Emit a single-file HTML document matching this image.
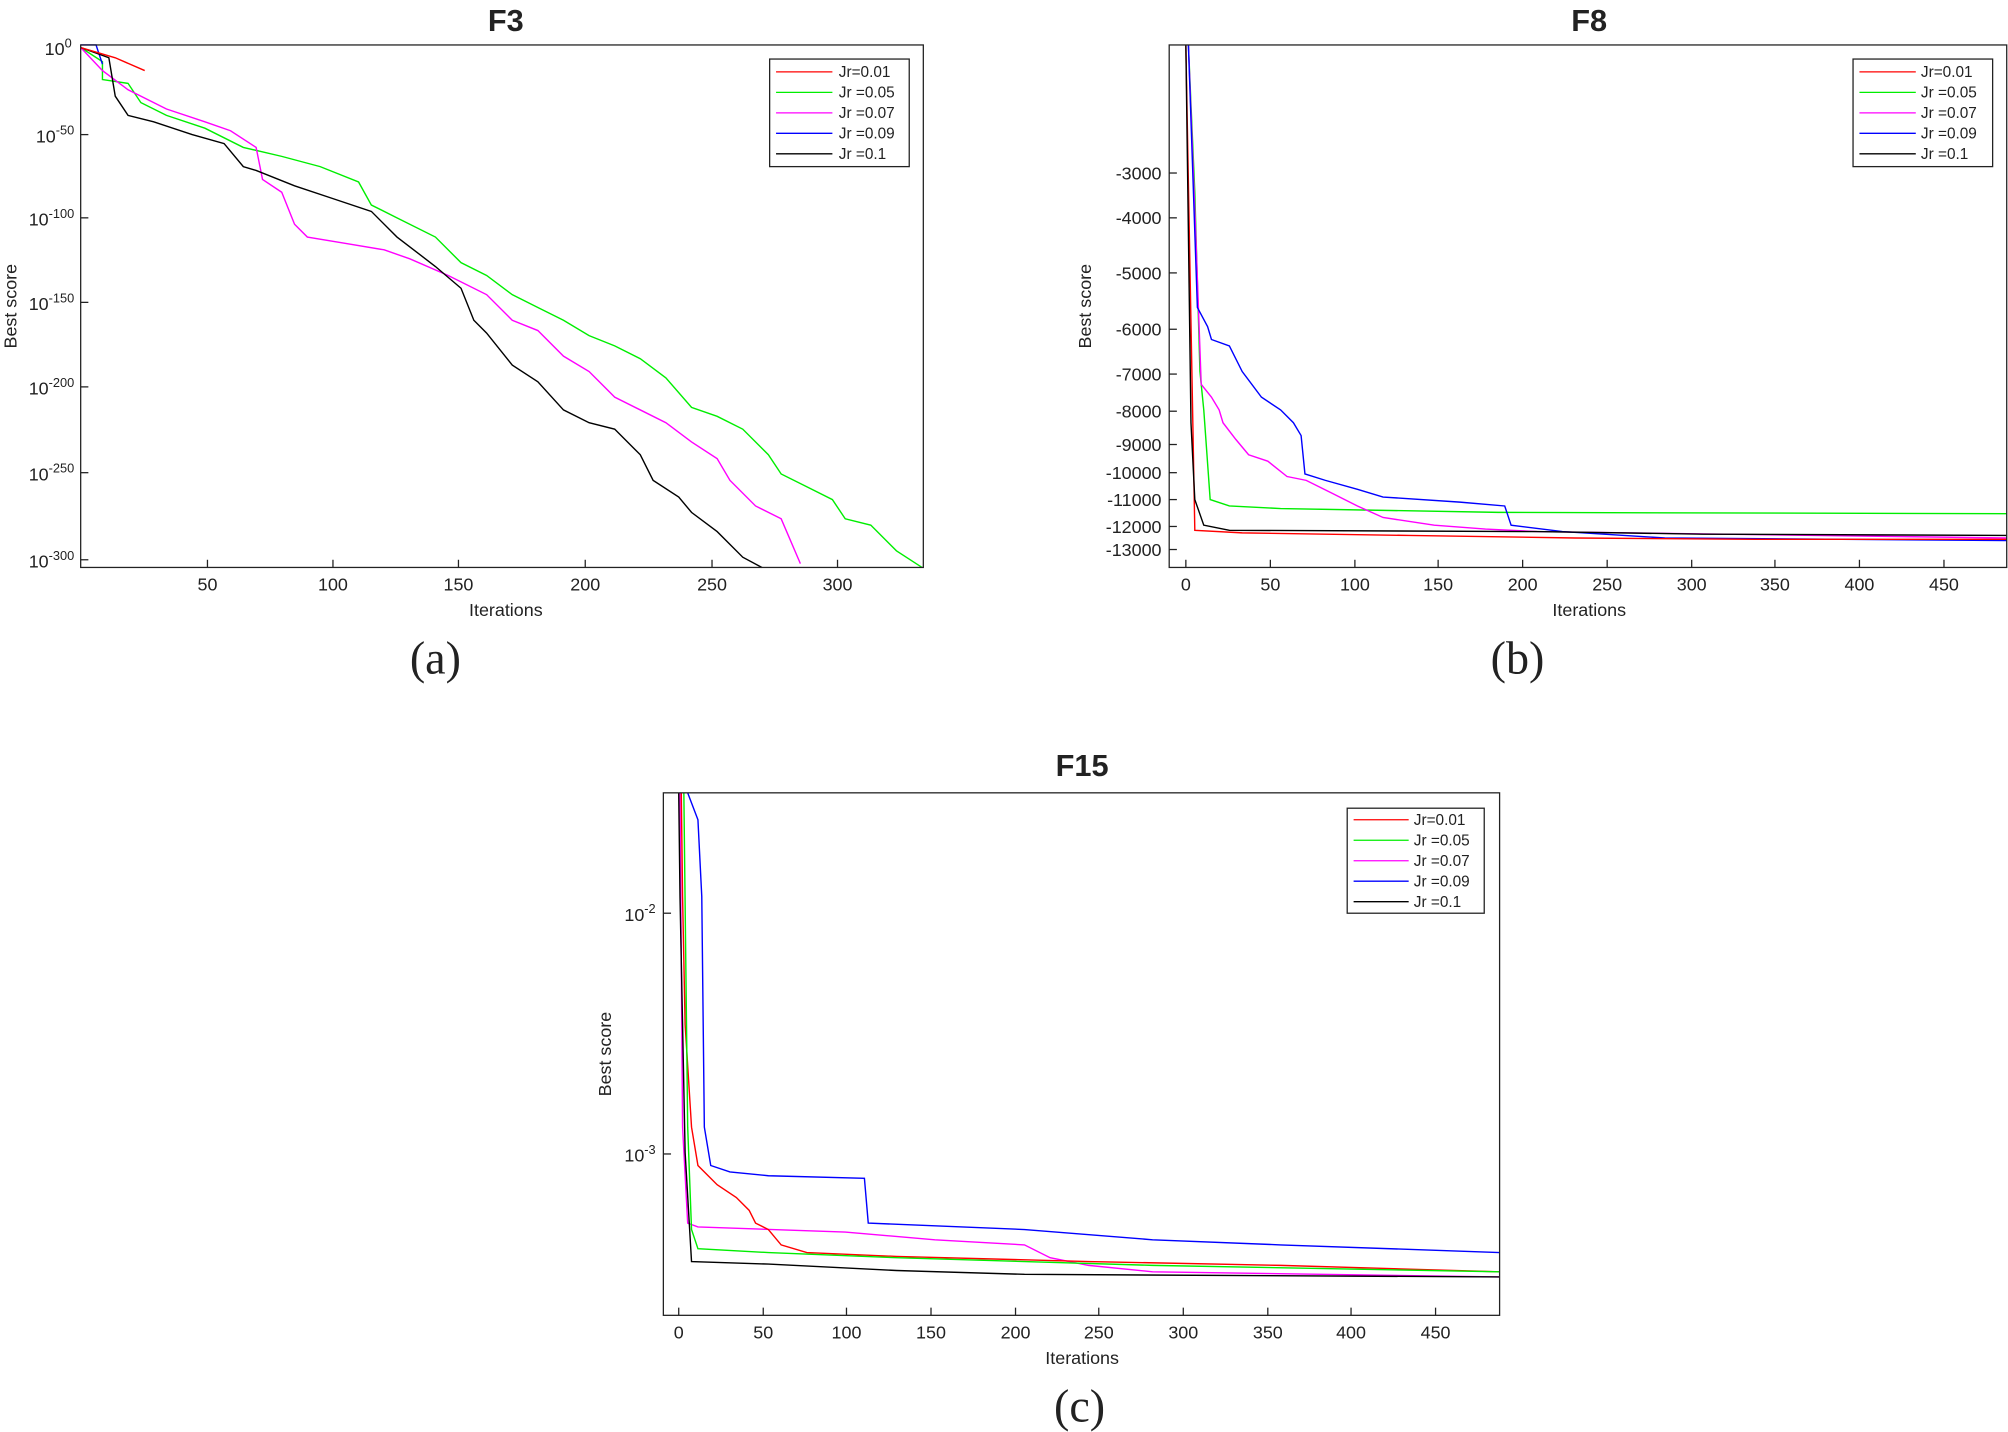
<!DOCTYPE html>
<html><head><meta charset="utf-8"><style>html,body{margin:0;padding:0;background:#fff}svg{display:block}</style></head><body>
<svg width="2008" height="1432" viewBox="0 0 1568 1118" xmlns="http://www.w3.org/2000/svg" font-family="Liberation Sans, sans-serif">
<rect width="1568" height="1118" fill="#fff"/>
<g font-size="14" fill="#222">
<!-- Panel a -->
<text x="395" y="24" font-size="24" font-weight="bold" text-anchor="middle">F3</text>
<g fill="none" stroke-width="1.1">
<polyline stroke="#00ee00" points="63,37 80,48 80,62 100,65 110,80 130,90 160,100 190,115 220,122 250,130 280,142 290,160 310,170 340,185 360,205 380,215 400,230 420,240 440,250 460,262 480,270 500,280 520,295 540,318 560,325 580,335 600,355 610,370 630,380 650,390 660,405 680,410 700,430 720,443"/>
<polyline stroke="#ff00ff" points="63,37 80,55 100,70 130,85 160,95 180,102 200,115 205,140 220,150 230,175 240,185 270,190 300,195 320,202 350,215 380,230 400,250 420,258 440,278 460,290 480,310 500,320 520,330 540,345 560,358 570,375 590,395 610,405 625,440"/>
<polyline stroke="#0000ff" points="63,35 75,35 80,50"/>
<polyline stroke="#000" points="63,37 85,45 90,75 100,90 120,95 150,105 175,112 190,130 200,133 230,145 260,155 290,165 310,185 340,208 360,225 370,250 380,260 400,285 420,298 440,320 460,330 480,335 500,355 510,375 530,388 540,400 560,415 580,435 595,443"/>
<polyline stroke="#ff0000" points="63,37 90,45 113,55"/>
</g>
<rect x="63" y="35" width="658" height="408" fill="none" stroke="#222"/>
<g stroke="#222"><line x1="162" y1="443" x2="162" y2="437"/><line x1="260" y1="443" x2="260" y2="437"/><line x1="358" y1="443" x2="358" y2="437"/><line x1="457" y1="443" x2="457" y2="437"/><line x1="556" y1="443" x2="556" y2="437"/><line x1="654" y1="443" x2="654" y2="437"/>
<line x1="63" y1="105" x2="69" y2="105"/><line x1="63" y1="170" x2="69" y2="170"/><line x1="63" y1="236" x2="69" y2="236"/><line x1="63" y1="302" x2="69" y2="302"/><line x1="63" y1="369" x2="69" y2="369"/><line x1="63" y1="437" x2="69" y2="437"/></g>
<g text-anchor="middle"><text x="162" y="461">50</text><text x="260" y="461">100</text><text x="358" y="461">150</text><text x="457" y="461">200</text><text x="556" y="461">250</text><text x="654" y="461">300</text></g>
<g text-anchor="end"><text x="56" y="43">10<tspan font-size="10" dy="-6">0</tspan></text><text x="58" y="111">10<tspan font-size="10" dy="-6">-50</tspan></text><text x="58" y="176">10<tspan font-size="10" dy="-6">-100</tspan></text><text x="58" y="242">10<tspan font-size="10" dy="-6">-150</tspan></text><text x="58" y="308">10<tspan font-size="10" dy="-6">-200</tspan></text><text x="58" y="375">10<tspan font-size="10" dy="-6">-250</tspan></text><text x="58" y="443">10<tspan font-size="10" dy="-6">-300</tspan></text></g>
<text x="395" y="481" text-anchor="middle">Iterations</text>
<text transform="translate(13,239) rotate(-90)" text-anchor="middle">Best score</text>
<g font-size="12"><rect x="601" y="46" width="109" height="84" fill="#fff" stroke="#222"/>
<line x1="606" y1="56" x2="650" y2="56" stroke="#f00"/><text x="655" y="60">Jr=0.01</text>
<line x1="606" y1="72" x2="650" y2="72" stroke="#0e0"/><text x="655" y="76">Jr =0.05</text>
<line x1="606" y1="88" x2="650" y2="88" stroke="#f0f"/><text x="655" y="92">Jr =0.07</text>
<line x1="606" y1="104" x2="650" y2="104" stroke="#00f"/><text x="655" y="108">Jr =0.09</text>
<line x1="606" y1="120" x2="650" y2="120" stroke="#000"/><text x="655" y="124">Jr =0.1</text></g>
<text x="340" y="526" font-size="36" font-family="Liberation Serif, serif" text-anchor="middle">(a)</text>

<!-- Panel b -->
<text x="1241" y="24" font-size="24" font-weight="bold" text-anchor="middle">F8</text>
<g fill="none" stroke-width="1.1">
<polyline stroke="#00ee00" points="928,35 933,150 937,290 940,320 945,390 960,395 1000,397 1170,400 1567,401"/>
<polyline stroke="#ff00ff" points="928,35 934,190 938,300 946,310 952,320 955,330 965,343 975,355 990,360 1005,372 1020,375 1040,385 1060,395 1080,404 1120,410 1160,413 1200,415 1567,420"/>
<polyline stroke="#0000ff" points="928,35 935,240 943,255 946,265 960,270 970,290 985,310 1000,320 1010,330 1016,340 1019,370 1035,375 1060,382 1080,388 1140,392 1175,395 1180,410 1220,415 1300,420 1567,422"/>
<polyline stroke="#ff0000" points="926,35 933,414 970,416 1100,418 1230,420 1370,421 1567,421"/>
<polyline stroke="#000" points="926,35 930,330 933,390 940,410 960,414 1200,415 1330,417 1567,418"/>
</g>
<rect x="913" y="35" width="654" height="408" fill="none" stroke="#222"/>
<g stroke="#222"><line x1="926" y1="443" x2="926" y2="437"/><line x1="992" y1="443" x2="992" y2="437"/><line x1="1058" y1="443" x2="1058" y2="437"/><line x1="1123" y1="443" x2="1123" y2="437"/><line x1="1189" y1="443" x2="1189" y2="437"/><line x1="1255" y1="443" x2="1255" y2="437"/><line x1="1321" y1="443" x2="1321" y2="437"/><line x1="1386" y1="443" x2="1386" y2="437"/><line x1="1452" y1="443" x2="1452" y2="437"/><line x1="1518" y1="443" x2="1518" y2="437"/>
<line x1="913" y1="135" x2="919" y2="135"/><line x1="913" y1="170" x2="919" y2="170"/><line x1="913" y1="213" x2="919" y2="213"/><line x1="913" y1="257" x2="919" y2="257"/><line x1="913" y1="292" x2="919" y2="292"/><line x1="913" y1="321" x2="919" y2="321"/><line x1="913" y1="347" x2="919" y2="347"/><line x1="913" y1="369" x2="919" y2="369"/><line x1="913" y1="390" x2="919" y2="390"/><line x1="913" y1="411" x2="919" y2="411"/><line x1="913" y1="429" x2="919" y2="429"/></g>
<g text-anchor="middle"><text x="926" y="461">0</text><text x="992" y="461">50</text><text x="1058" y="461">100</text><text x="1123" y="461">150</text><text x="1189" y="461">200</text><text x="1255" y="461">250</text><text x="1321" y="461">300</text><text x="1386" y="461">350</text><text x="1452" y="461">400</text><text x="1518" y="461">450</text></g>
<g text-anchor="end"><text x="907" y="140">-3000</text><text x="907" y="175">-4000</text><text x="907" y="218">-5000</text><text x="907" y="262">-6000</text><text x="907" y="297">-7000</text><text x="907" y="326">-8000</text><text x="907" y="352">-9000</text><text x="907" y="374">-10000</text><text x="907" y="395">-11000</text><text x="907" y="416">-12000</text><text x="907" y="434">-13000</text></g>
<text x="1241" y="481" text-anchor="middle">Iterations</text>
<text transform="translate(852,239) rotate(-90)" text-anchor="middle">Best score</text>
<g font-size="12"><rect x="1447" y="46" width="109" height="84" fill="#fff" stroke="#222"/>
<line x1="1452" y1="56" x2="1496" y2="56" stroke="#f00"/><text x="1500" y="60">Jr=0.01</text>
<line x1="1452" y1="72" x2="1496" y2="72" stroke="#0e0"/><text x="1500" y="76">Jr =0.05</text>
<line x1="1452" y1="88" x2="1496" y2="88" stroke="#f0f"/><text x="1500" y="92">Jr =0.07</text>
<line x1="1452" y1="104" x2="1496" y2="104" stroke="#00f"/><text x="1500" y="108">Jr =0.09</text>
<line x1="1452" y1="120" x2="1496" y2="120" stroke="#000"/><text x="1500" y="124">Jr =0.1</text></g>
<text x="1185" y="526" font-size="36" font-family="Liberation Serif, serif" text-anchor="middle">(b)</text>

<!-- Panel c -->
<text x="845" y="606" font-size="24" font-weight="bold" text-anchor="middle">F15</text>
<g fill="none" stroke-width="1.1">
<polyline stroke="#0000ff" points="537,619 545,640 548,700 550,880 555,910 570,915 600,918 675,920 678,955 800,960 900,968 1000,972 1171,978"/>
<polyline stroke="#ff00ff" points="531,619 533,880 537,955 545,958 660,962 730,968 800,972 820,982 850,988 900,993 1171,997"/>
<polyline stroke="#ff0000" points="532,619 533,700 535,800 540,880 545,910 560,925 575,935 585,945 590,955 600,960 610,972 630,978 700,981 850,985 1000,988 1171,993"/>
<polyline stroke="#00ee00" points="534,619 537,880 540,960 545,975 600,978 700,982 900,988 1171,993"/>
<polyline stroke="#000" points="530,619 531,700 535,900 540,985 600,987 700,992 800,995 1171,997"/>
</g>
<rect x="518" y="619" width="653" height="408" fill="none" stroke="#222"/>
<g stroke="#222"><line x1="530" y1="1027" x2="530" y2="1021"/><line x1="596" y1="1027" x2="596" y2="1021"/><line x1="661" y1="1027" x2="661" y2="1021"/><line x1="727" y1="1027" x2="727" y2="1021"/><line x1="793" y1="1027" x2="793" y2="1021"/><line x1="858" y1="1027" x2="858" y2="1021"/><line x1="924" y1="1027" x2="924" y2="1021"/><line x1="990" y1="1027" x2="990" y2="1021"/><line x1="1055" y1="1027" x2="1055" y2="1021"/><line x1="1121" y1="1027" x2="1121" y2="1021"/>
<line x1="518" y1="713" x2="524" y2="713"/><line x1="518" y1="901" x2="524" y2="901"/></g>
<g text-anchor="middle"><text x="530" y="1045">0</text><text x="596" y="1045">50</text><text x="661" y="1045">100</text><text x="727" y="1045">150</text><text x="793" y="1045">200</text><text x="858" y="1045">250</text><text x="924" y="1045">300</text><text x="990" y="1045">350</text><text x="1055" y="1045">400</text><text x="1121" y="1045">450</text></g>
<g text-anchor="end"><text x="512" y="719">10<tspan font-size="10" dy="-6">-2</tspan></text><text x="512" y="907">10<tspan font-size="10" dy="-6">-3</tspan></text></g>
<text x="845" y="1065" text-anchor="middle">Iterations</text>
<text transform="translate(477,823) rotate(-90)" text-anchor="middle">Best score</text>
<g font-size="12"><rect x="1052" y="631" width="107" height="82" fill="#fff" stroke="#222"/>
<line x1="1057" y1="640" x2="1100" y2="640" stroke="#f00"/><text x="1104" y="644">Jr=0.01</text>
<line x1="1057" y1="656" x2="1100" y2="656" stroke="#0e0"/><text x="1104" y="660">Jr =0.05</text>
<line x1="1057" y1="672" x2="1100" y2="672" stroke="#f0f"/><text x="1104" y="676">Jr =0.07</text>
<line x1="1057" y1="688" x2="1100" y2="688" stroke="#00f"/><text x="1104" y="692">Jr =0.09</text>
<line x1="1057" y1="704" x2="1100" y2="704" stroke="#000"/><text x="1104" y="708">Jr =0.1</text></g>
<text x="843" y="1110" font-size="36" font-family="Liberation Serif, serif" text-anchor="middle">(c)</text>
</g>
</svg>
</body></html>
